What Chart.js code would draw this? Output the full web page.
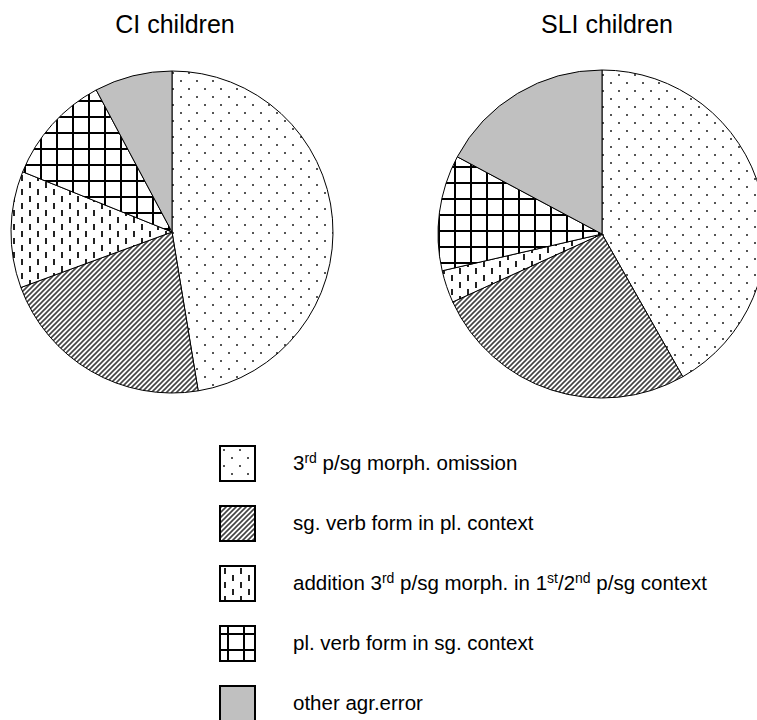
<!DOCTYPE html>
<html>
<head>
  <title>CI vs SLI agreement errors</title>
  <script src="https://cdn.jsdelivr.net/npm/chart.js@4.4.1/dist/chart.umd.min.js"></script>
  <style>
    html, body { margin: 0; padding: 0; background: #fff; overflow: hidden; }
    body { width: 757px; height: 720px; position: relative; font-family: "Liberation Sans", Arial, sans-serif; color: #000; }
    .title { position: absolute; top: 10px; font-size: 25px; width: 240px; text-align: center; }
    .pie { position: absolute; }
    .legend-row { position: absolute; left: 219px; height: 37px; display: flex; align-items: center; }
    .legend-row canvas { width: 37px; height: 37px; box-sizing: border-box; border: 2px solid #000; }
    .legend-row span { margin-left: 37px; font-size: 20.5px; white-space: nowrap; position: relative; top: -1px; }
    sup { font-size: 14px; vertical-align: 7px; line-height: 0; }
  </style>
</head>
<body>
  <div class="title" style="left:55px">CI children</div>
  <div class="title" style="left:487px">SLI children</div>
  <div class="pie" style="left:2px; top:62px; width:340px; height:340px"><canvas id="ciChart"></canvas></div>
  <div class="pie" style="left:432px; top:64px; width:340px; height:340px"><canvas id="sliChart"></canvas></div>
  <div id="legend"></div>
  <script>
    // categories (legend order = slice order, clockwise from 12 o'clock)
    var categories = [
      '3<sup>rd</sup> p/sg morph. omission',
      'sg. verb form in pl. context',
      'addition 3<sup>rd</sup> p/sg morph. in 1<sup>st</sup>/2<sup>nd</sup> p/sg context',
      'pl. verb form in sg. context',
      'other agr.error'
    ];
    // shares in percent
    var ciValues = [47.4, 22.0, 11.7, 11.1, 7.8];
    var sliValues = [41.8, 26.4, 3.2, 11.4, 17.2];
    var patternNames = ['dots', 'diagonal', 'dashes', 'grid', 'solid'];

    function makeTile(name) {
      var c = document.createElement('canvas');
      var g;
      if (name === 'dots') {
        c.width = 16; c.height = 16;
        g = c.getContext('2d');
        g.fillStyle = '#fff'; g.fillRect(0, 0, 16, 16);
        g.fillStyle = '#555';
        g.fillRect(2, 2, 2, 2);
        g.fillRect(10, 10, 2, 2);
      } else if (name === 'diagonal') {
        c.width = 5; c.height = 5;
        g = c.getContext('2d');
        g.fillStyle = '#fff'; g.fillRect(0, 0, 5, 5);
        g.strokeStyle = '#444'; g.lineWidth = 1.6;
        g.beginPath();
        g.moveTo(-1, 6); g.lineTo(6, -1);
        g.moveTo(-6, 6); g.lineTo(1, -1);
        g.moveTo(4, 6); g.lineTo(11, -1);
        g.stroke();
      } else if (name === 'dashes') {
        c.width = 16; c.height = 14;
        g = c.getContext('2d');
        g.fillStyle = '#fff'; g.fillRect(0, 0, 16, 14);
        g.fillStyle = '#222';
        g.fillRect(3, 1, 2, 6);
        g.fillRect(11, 8, 2, 6);
      } else if (name === 'grid') {
        c.width = 16; c.height = 16;
        g = c.getContext('2d');
        g.fillStyle = '#fff'; g.fillRect(0, 0, 16, 16);
        g.fillStyle = '#000';
        g.fillRect(6, 0, 2, 16);
        g.fillRect(0, 6, 16, 2);
      } else {
        c.width = 4; c.height = 4;
        g = c.getContext('2d');
        g.fillStyle = '#c0c0c0'; g.fillRect(0, 0, 4, 4);
      }
      return c;
    }

    function makePattern(ctx, name) {
      return ctx.createPattern(makeTile(name), 'repeat');
    }

    function drawPie(id, values, radius) {
      var ctx = document.getElementById(id).getContext('2d');
      return new Chart(ctx, {
        type: 'pie',
        data: {
          labels: categories.map(function (s) { return s.replace(/<\/?sup>/g, ''); }),
          datasets: [{
            data: values,
            backgroundColor: patternNames.map(function (n) { return makePattern(ctx, n); }),
            borderColor: '#000',
            borderWidth: 1
          }]
        },
        options: {
          responsive: true,
          maintainAspectRatio: false,
          animation: false,
          radius: radius,
          layout: { padding: 0 },
          plugins: {
            legend: { display: false },
            tooltip: { enabled: false }
          }
        }
      });
    }

    drawPie('ciChart', ciValues, 161);
    drawPie('sliChart', sliValues, 164);

    // legend with pattern swatches
    var legend = document.getElementById('legend');
    categories.forEach(function (label, i) {
      var row = document.createElement('div');
      row.className = 'legend-row';
      row.style.top = (445 + i * 60) + 'px';
      var sw = document.createElement('canvas');
      sw.width = 33; sw.height = 33;
      var sctx = sw.getContext('2d');
      sctx.fillStyle = makePattern(sctx, patternNames[i]);
      sctx.fillRect(0, 0, 33, 33);
      var txt = document.createElement('span');
      txt.innerHTML = label;
      row.appendChild(sw);
      row.appendChild(txt);
      legend.appendChild(row);
    });
  </script>
</body>
</html>
